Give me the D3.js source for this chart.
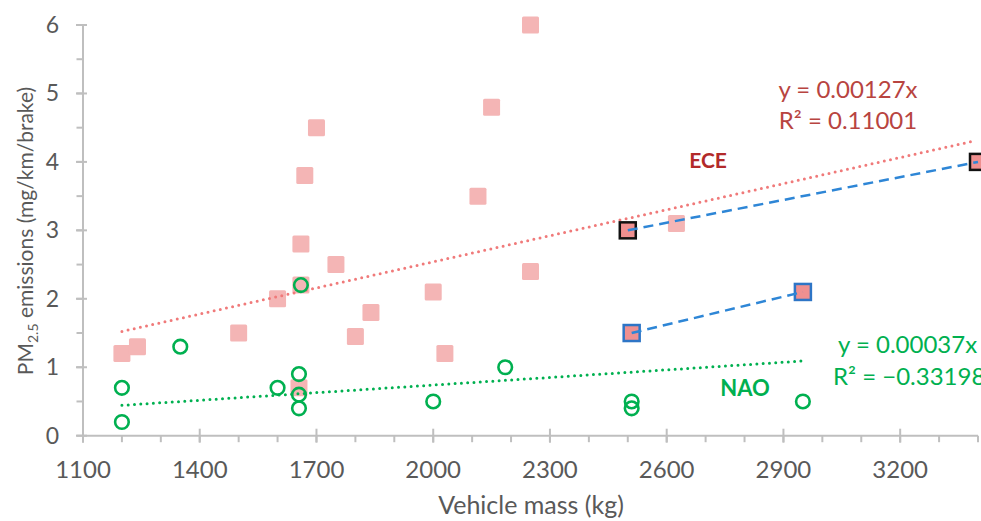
<!DOCTYPE html>
<html>
<head>
<meta charset="utf-8">
<script src="https://cdn.jsdelivr.net/npm/d3@7"></script>
<style>
  html, body { margin: 0; padding: 0; background: #fff; }
  svg { display: block; font-family: Lato, "Open Sans", sans-serif; }
</style>
</head>
<body>
<svg id="chart" width="981" height="521"></svg>
<script>
// ---------- DATA ----------
const eceMass = [1200, 1240, 1500, 1600, 1660, 1660, 1670, 1700, 1750, 1800, 1840, 2000, 2030, 2115, 2150, 2250, 2250, 2625, 1655];
const eceValue = [1.2, 1.3, 1.5, 2.0, 2.2, 2.8, 3.8, 4.5, 2.5, 1.45, 1.8, 2.1, 1.2, 3.5, 4.8, 6.0, 2.4, 3.1, 0.7];

const naoMass = [1200, 1200, 1350, 1600, 1660, 1655, 1655, 1655, 2000, 2185, 2510, 2510, 2950];
const naoValue = [0.7, 0.2, 1.3, 0.7, 2.2, 0.9, 0.6, 0.4, 0.5, 1.0, 0.5, 0.4, 0.5];

// highlighted pairs (connected with blue dashed lines)
const pairBlackMass = [2500, 3400];
const pairBlackValue = [3.0, 4.0];
const pairBlueMass = [2510, 2950];
const pairBlueValue = [1.5, 2.1];

// trend lines: y = slope * x
const eceSlope = 0.00127, eceTrendRange = [1200, 3390];
const naoSlope = 0.00037, naoTrendRange = [1200, 2950];

const xTicks = [1100, 1400, 1700, 2000, 2300, 2600, 2900, 3200];
const xMinorTicks = d3.range(1100, 3401, 100);
const yTicks = [0, 1, 2, 3, 4, 5, 6];
const yMinorTicks = d3.range(0, 6.01, 0.5);

// ---------- SCALES ----------
const svg = d3.select("#chart");
const x = d3.scaleLinear().domain([1100, 3400]).range([83, 978]);
const y = d3.scaleLinear().domain([0, 6]).range([435.7, 25]);

const axisColor = "#bfbfbf";
const textColor = "#595959";

// ---------- AXES ----------
const g = svg.append("g");
g.selectAll(".xminor").data(xMinorTicks).enter().append("line")
  .attr("x1", d => x(d)).attr("x2", d => x(d))
  .attr("y1", y(0)).attr("y2", y(0) + 6.5)
  .attr("stroke", axisColor).attr("stroke-width", 2);
g.selectAll(".xmajor").data(xTicks).enter().append("line")
  .attr("x1", d => x(d)).attr("x2", d => x(d))
  .attr("y1", y(0) - 7).attr("y2", y(0) + 7)
  .attr("stroke", axisColor).attr("stroke-width", 2);
g.selectAll(".yminor").data(yMinorTicks).enter().append("line")
  .attr("x1", x(1100) - 6.5).attr("x2", x(1100))
  .attr("y1", d => y(d)).attr("y2", d => y(d))
  .attr("stroke", axisColor).attr("stroke-width", 2);
g.selectAll(".ymajor").data(yTicks).enter().append("line")
  .attr("x1", x(1100) - 7).attr("x2", x(1100) + 4)
  .attr("y1", d => y(d)).attr("y2", d => y(d))
  .attr("stroke", axisColor).attr("stroke-width", 2);
g.append("line").attr("x1", x(1100)).attr("x2", x(3400)).attr("y1", y(0)).attr("y2", y(0))
  .attr("stroke", axisColor).attr("stroke-width", 2);
g.append("line").attr("x1", x(1100)).attr("x2", x(1100)).attr("y1", y(0)).attr("y2", y(6))
  .attr("stroke", axisColor).attr("stroke-width", 2);

// tick labels
g.selectAll(".xlab").data(xTicks).enter().append("text")
  .attr("x", d => x(d)).attr("y", 478)
  .attr("text-anchor", "middle").attr("font-size", 24).attr("fill", textColor)
  .text(d => d);
g.selectAll(".ylab").data(yTicks).enter().append("text")
  .attr("x", 59).attr("y", d => y(d) + 8)
  .attr("text-anchor", "end").attr("font-size", 23).attr("fill", textColor)
  .text(d => d);

// axis titles
svg.append("text").attr("x", 531).attr("y", 514)
  .attr("text-anchor", "middle").attr("font-size", 25).attr("fill", textColor)
  .text("Vehicle mass (kg)");
const yt = svg.append("text")
  .attr("transform", "translate(33,231) rotate(-90)")
  .attr("text-anchor", "middle").attr("font-size", 21).attr("fill", textColor);
yt.append("tspan").text("PM");
yt.append("tspan").attr("font-size", 14).attr("dy", 5).text("2.5");
yt.append("tspan").attr("dy", -5).text(" emissions (mg/km/brake)");

// ---------- MARKS ----------
const sq = 17;
const ece = eceMass.map((m, i) => ({ m, v: eceValue[i] }));
svg.append("g").selectAll("rect").data(ece).enter().append("rect")
  .attr("x", d => x(d.m) - sq / 2).attr("y", d => y(d.v) - sq / 2)
  .attr("width", sq).attr("height", sq).attr("rx", 1.5)
  .attr("fill", "#f4b5b5");

const line = d3.line().x(d => x(d[0])).y(d => y(d[1]));
svg.append("path")
  .attr("d", line(eceTrendRange.map(m => [m, eceSlope * m])))
  .attr("fill", "none").attr("stroke", "#f07a7a").attr("stroke-width", 3)
  .attr("stroke-linecap", "round").attr("stroke-dasharray", "0 6.3");
svg.append("path")
  .attr("d", line(naoTrendRange.map(m => [m, naoSlope * m])))
  .attr("fill", "none").attr("stroke", "#00b050").attr("stroke-width", 3)
  .attr("stroke-linecap", "round").attr("stroke-dasharray", "0 6.3");

const nao = naoMass.map((m, i) => ({ m, v: naoValue[i] }));
svg.append("g").selectAll("circle").data(nao).enter().append("circle")
  .attr("cx", d => x(d.m)).attr("cy", d => y(d.v)).attr("r", 6.8)
  .attr("fill", "none").attr("stroke", "#00b050").attr("stroke-width", 2.6);

function drawPair(ms, vs, stroke) {
  const pts = ms.map((m, i) => [m, vs[i]]);
  svg.append("g").selectAll("rect").data(pts).enter().append("rect")
    .attr("x", d => x(d[0]) - 8).attr("y", d => y(d[1]) - 8)
    .attr("width", 16).attr("height", 16)
    .attr("fill", "#ef9090").attr("stroke", stroke).attr("stroke-width", 2.5);
  svg.append("path").attr("d", line(pts))
    .attr("fill", "none").attr("stroke", "#2e86d6").attr("stroke-width", 2.5)
    .attr("stroke-dasharray", "10 6");
}
drawPair(pairBlackMass, pairBlackValue, "#111");
drawPair(pairBlueMass, pairBlueValue, "#2e75c6");

// ---------- ANNOTATIONS ----------
const red = "#b84440";
svg.append("text").attr("x", 848).attr("y", 98).attr("text-anchor", "middle")
  .attr("font-size", 24).attr("fill", red).text("y = 0.00127x");
svg.append("text").attr("x", 848).attr("y", 129).attr("text-anchor", "middle")
  .attr("font-size", 24).attr("fill", red).text("R² = 0.11001");
svg.append("text").attr("x", 708).attr("y", 168).attr("text-anchor", "middle")
  .attr("font-size", 21).attr("font-weight", "bold").attr("fill", "#b22a2a").text("ECE");

const green = "#00b050";
svg.append("text").attr("x", 838).attr("y", 353)
  .attr("font-size", 24).attr("fill", green).text("y = 0.00037x");
svg.append("text").attr("x", 833).attr("y", 385)
  .attr("font-size", 24).attr("fill", green).text("R² = −0.33198");
svg.append("text").attr("x", 745).attr("y", 396).attr("text-anchor", "middle")
  .attr("font-size", 22).attr("font-weight", "bold").attr("fill", green).text("NAO");
</script>
</body>
</html>
